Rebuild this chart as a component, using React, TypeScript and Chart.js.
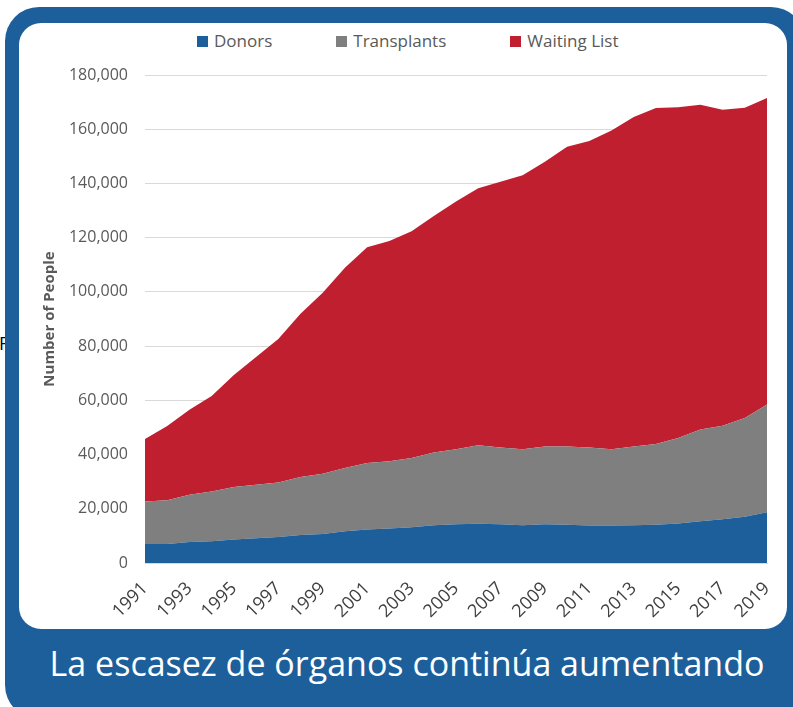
import React, { useEffect, useRef } from "react";
import { Chart, registerables } from "chart.js";

Chart.register(...registerables);

const years = [
  "1991", "1992", "1993", "1994", "1995", "1996", "1997", "1998", "1999", "2000",
  "2001", "2002", "2003", "2004", "2005", "2006", "2007", "2008", "2009", "2010",
  "2011", "2012", "2013", "2014", "2015", "2016", "2017", "2018", "2019",
];

const donors = [
  7000, 7000, 7700, 8000, 8700, 9100, 9600, 10300, 10700, 11700,
  12400, 12700, 13200, 13900, 14300, 14500, 14300, 13900, 14300, 14100,
  13800, 13800, 13900, 14100, 14600, 15400, 16100, 17100, 18700,
];

const transplants = [
  15700, 16100, 17500, 18400, 19300, 19800, 20100, 21400, 22200, 23300,
  24500, 24800, 25500, 26900, 27700, 28900, 28300, 28100, 28700, 28900,
  28800, 28200, 29100, 29800, 31500, 33800, 34500, 36400, 39800,
];

const waitingList = [
  23000, 27400, 31300, 35200, 41300, 47100, 52900, 60200, 66800, 73900,
  79600, 81300, 83700, 87200, 91300, 94800, 98000, 101000, 105000, 110500,
  113100, 117500, 121500, 123900, 122000, 119800, 116600, 114400, 113000,
];

const yTicks = [0, 20000, 40000, 60000, 80000, 100000, 120000, 140000, 160000, 180000];

const seriesNames = ["Donors", "Transplants", "Waiting List"];
const seriesColors = ["#1d5f9b", "#7f7f7f", "#c01f30"];

const FRAME_BLUE = "#1d5f9b";
const FONT = "'Open Sans', 'Noto Sans', sans-serif";

function ChartCanvas() {
  const ref = useRef<HTMLCanvasElement | null>(null);

  useEffect(() => {
    if (!ref.current) return;
    const seriesData = [donors, transplants, waitingList];
    const chart = new Chart(ref.current, {
      type: "line",
      data: {
        labels: years,
        datasets: seriesData.map((d, i) => ({
          label: seriesNames[i],
          data: d,
          backgroundColor: seriesColors[i],
          borderColor: seriesColors[i],
          borderWidth: 0,
          pointRadius: 0,
          tension: 0,
          fill: i === 0 ? "origin" : "-1",
        })),
      },
      options: {
        animation: false,
        responsive: false,
        maintainAspectRatio: false,
        layout: { padding: { top: 15, right: 19, left: 0, bottom: 0 } },
        plugins: {
          legend: { display: false },
          tooltip: { enabled: false },
        },
        scales: {
          x: {
            stacked: true,
            grid: { display: false, drawTicks: false },
            border: { display: true, color: "#d9d9d9", width: 1 },
            ticks: {
              autoSkip: false,
              maxRotation: 45,
              minRotation: 45,
              padding: 15,
              color: "#404040",
              font: { family: FONT, size: 18 },
              callback: (_v: any, i: number) => (i % 2 === 0 ? years[i] : null),
            },
            afterFit: (s: any) => {
              s.height = 67;
              s.paddingLeft = 0;
              s.paddingRight = 0;
              s.paddingTop = 0;
              s.paddingBottom = 0;
            },
          },
          y: {
            stacked: true,
            min: 0,
            max: 180000,
            afterBuildTicks: (s: any) => {
              s.ticks = yTicks.map((v) => ({ value: v }));
            },
            grid: { color: "#d9d9d9", lineWidth: 1, drawTicks: false },
            border: { display: false },
            ticks: {
              padding: 17,
              color: "#595959",
              font: { family: FONT, size: 16 },
              callback: (v: any) => Number(v).toLocaleString("en-US"),
            },
            title: {
              display: true,
              text: "Number of People",
              color: "#595959",
              font: { family: FONT, size: 15, weight: "bold" },
              padding: { top: 21, bottom: 0 },
            },
            afterFit: (s: any) => {
              s.width = 125;
              s.paddingLeft = 0;
              s.paddingRight = 0;
              s.paddingTop = 0;
              s.paddingBottom = 0;
            },
          },
        },
      },
    });
    return () => chart.destroy();
  }, []);

  return <canvas ref={ref} width={766} height={570} style={{ display: "block", width: 766, height: 570 }} />;
}

export default function App() {
  return (
    <div
      style={{
        position: "fixed",
        left: 0,
        top: 0,
        width: 793,
        height: 707,
        overflow: "hidden",
        background: "#ffffff",
        fontFamily: FONT,
      }}
    >
      <div
        style={{
          position: "absolute",
          left: -1,
          top: 333,
          fontSize: 18,
          color: "#000",
          fontFamily: FONT,
          lineHeight: "20px",
        }}
      >
        F
      </div>
      <div
        style={{
          position: "absolute",
          left: 5,
          top: 7,
          width: 800,
          height: 712,
          background: FRAME_BLUE,
          borderRadius: 34,
        }}
      />
      <div
        style={{
          position: "absolute",
          left: 19,
          top: 23,
          width: 768,
          height: 606,
          background: "#ffffff",
          borderRadius: 22,
        }}
      />
      <div
        style={{
          position: "absolute",
          left: 197,
          top: 30,
          display: "flex",
          alignItems: "center",
          gap: 64,
          whiteSpace: "nowrap",
        }}
      >
        {seriesNames.map((n, i) => (
          <div key={n} style={{ display: "flex", alignItems: "center" }}>
            <span
              style={{
                display: "inline-block",
                width: 11,
                height: 11,
                background: seriesColors[i],
                marginRight: 6,
              }}
            />
            <span style={{ fontSize: 17, color: "#595959", lineHeight: "22px" }}>{n}</span>
          </div>
        ))}
      </div>
      <div style={{ position: "absolute", left: 20, top: 60, width: 766, height: 570 }}>
        <ChartCanvas />
      </div>
      <div
        style={{
          position: "absolute",
          left: 0,
          top: 640,
          width: 814,
          textAlign: "center",
          color: "#ffffff",
          fontSize: 34,
          lineHeight: "46px",
          whiteSpace: "nowrap",
        }}
      >
        La escasez de órganos continúa aumentando
      </div>
    </div>
  );
}
